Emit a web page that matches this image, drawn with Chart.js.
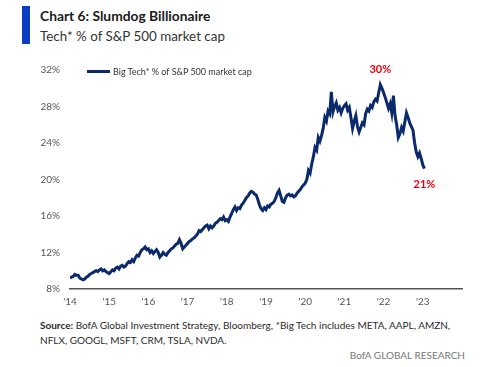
<!DOCTYPE html>
<html>
<head>
<meta charset="utf-8">
<script src="https://cdn.jsdelivr.net/npm/chart.js@4/dist/chart.umd.min.js"></script>
<style>
    body { margin: 0; width: 487px; height: 367px; background: #fff; font-family: Lato, "Open Sans", sans-serif; position: relative; overflow: hidden; }
    .bar { position: absolute; left: 22px; top: 6px; width: 8px; height: 38px; background: #0a3fc4; }
    .title { position: absolute; left: 40px; top: 7px; font-size: 13.8px; font-weight: bold; color: #1a1a1a; }
    .subtitle { position: absolute; left: 40px; top: 28px; font-size: 13.4px; color: #333; }
    .chart-box { position: absolute; left: 0; top: 54px; width: 475px; height: 251px; }
    .legend { position: absolute; left: 87px; top: 66px; font-size: 9px; color: #333; display: flex; align-items: center; }
    .legend-line { display: inline-block; width: 23px; height: 3px; background: #0b2a6b; margin-right: 3px; }
    .source { position: absolute; left: 40px; top: 318px; width: 430px; font-size: 10px; line-height: 15px; color: #2a2a2a; }
    .brand { position: absolute; right: 22px; top: 349px; font-size: 10px; color: #777; }
</style>
</head>
<body>
<div class="bar"></div>
<div class="title">Chart 6: Slumdog Billionaire</div>
<div class="subtitle">Tech* % of S&amp;P 500 market cap</div>
<div class="chart-box"><canvas id="chart"></canvas></div>
<div class="legend"><span class="legend-line"></span>Big Tech* % of S&amp;P 500 market cap</div>
<div class="source"><b>Source:</b> BofA Global Investment Strategy, Bloomberg, *Big Tech includes META, AAPL, AMZN, NFLX, GOOGL, MSFT, CRM, TSLA, NVDA.</div>
<div class="brand">BofA GLOBAL RESEARCH</div>

<script>
// semi-monthly readings, first one at start of 2014
const startYear = 2014;
const stepsPerYear = 24;
const techShare = [
    // 2014
    9.2, 9.3, 9.4, 9.6, 9.5, 9.5, 9.2, 9.1, 9.0, 9.1, 9.3, 9.4,
    9.6, 9.7, 9.8, 9.9, 10.0, 9.9, 10.1, 10.2, 10.0, 10.1, 9.9, 9.8,
    // 2015
    9.7, 9.9, 10.1, 10.0, 10.3, 10.4, 10.2, 10.5, 10.6, 10.4, 10.5, 10.8,
    11.0, 10.9, 11.2, 11.0, 11.4, 11.7, 11.6, 12.0, 12.3, 12.4, 12.6, 12.3,
    // 2016
    12.4, 12.0, 12.2, 11.9, 12.1, 12.3, 12.0, 11.5, 11.7, 12.0, 11.8, 11.7,
    12.0, 12.2, 12.4, 12.5, 12.7, 12.9, 13.0, 13.4, 13.0, 12.4, 12.6, 12.8,
    // 2017
    13.0, 13.2, 13.3, 13.5, 13.6, 13.8, 14.0, 14.4, 14.3, 14.5, 14.7, 14.9,
    15.0, 14.6, 14.9, 14.7, 14.9, 15.2, 15.3, 15.5, 15.7, 15.6, 15.9, 15.5,
    // 2018
    15.6, 15.4, 15.9, 16.3, 16.7, 17.0, 16.6, 16.9, 16.8, 17.2, 17.4, 17.7,
    18.0, 18.2, 18.5, 18.7, 18.6, 18.4, 18.3, 17.8, 17.2, 16.8, 16.6, 16.9,
    // 2019
    16.7, 17.1, 17.0, 17.3, 17.4, 17.6, 18.0, 18.5, 18.8, 18.2, 17.6, 17.5,
    18.0, 18.3, 18.4, 18.2, 18.3, 18.1, 18.2, 18.5, 18.7, 18.9, 19.2, 19.4,
    // 2020
    19.6, 20.0, 21.0, 20.7, 21.7, 22.5, 23.5, 23.2, 24.6, 24.2, 24.8, 25.6,
    26.8, 26.4, 27.5, 27.2, 29.6, 27.4, 28.0, 28.4, 27.6, 27.9, 27.3, 27.8,
    // 2021
    28.1, 28.3, 27.6, 27.9, 26.8, 25.6, 26.4, 27.0, 25.8, 25.2, 25.7, 26.2,
    26.0, 27.2, 27.7, 27.5, 28.1, 27.9, 28.5, 28.8, 28.6, 29.5, 30.4, 30.0,
    // 2022
    29.5, 29.0, 28.4, 27.8, 28.3, 27.3, 29.2, 27.0, 26.0, 24.6, 25.0, 25.7,
    25.3, 26.3, 27.3, 26.8, 26.2, 25.8, 25.4, 24.0, 23.0, 22.5, 22.9, 22.3,
    // 2023
    21.6, 21.2
];
const yearLabels = ["'14", "'15", "'16", "'17", "'18", "'19", "'20", "'21", "'22", "'23"];
const calloutLabels = ['30%', '21%'];   // peak, latest

const points = techShare.map((v, i) => ({ x: startYear + i / stepsPerYear, y: v }));

// red labels over the peak and under the last reading
const calloutPlugin = {
    id: 'callouts',
    afterDatasetsDraw(chart) {
        const ctx = chart.ctx;
        const xs = chart.scales.x, ys = chart.scales.y;
        const peak = techShare.indexOf(Math.max(...techShare));
        const last = techShare.length - 1;
        ctx.save();
        ctx.fillStyle = '#e8000b';
        ctx.font = 'bold 11px Lato, sans-serif';
        ctx.textAlign = 'center';
        ctx.textBaseline = 'middle';
        ctx.fillText(calloutLabels[0], xs.getPixelForValue(points[peak].x), ys.getPixelForValue(points[peak].y) - 15);
        ctx.fillText(calloutLabels[1], xs.getPixelForValue(points[last].x), ys.getPixelForValue(points[last].y) + 16);
        ctx.restore();
    }
};

new Chart(document.getElementById('chart'), {
    type: 'line',
    data: {
        datasets: [{
            label: 'Big Tech* % of S&P 500 market cap',
            data: points,
            borderColor: '#0b2a6b',
            borderWidth: 3,
            pointRadius: 0,
            tension: 0,
            fill: false
        }]
    },
    options: {
        responsive: true,
        maintainAspectRatio: false,
        animation: false,
        layout: { padding: { top: 3, right: 13, left: 0, bottom: 0 } },
        plugins: {
            legend: { display: false },
            tooltip: { enabled: false }
        },
        scales: {
            x: {
                type: 'linear',
                min: 2014,
                max: 2024,
                grid: { display: false, drawTicks: false },
                border: { color: '#555', width: 1.5 },
                ticks: {
                    stepSize: 1,
                    color: '#555',
                    font: { family: 'Lato', size: 10 },
                    padding: 7,
                    maxRotation: 0,
                    callback: v => yearLabels[v - startYear] || ''
                },
                afterFit: s => { s.height = 16; }
            },
            y: {
                min: 8,
                max: 32,
                grid: { display: false, drawTicks: false },
                border: { display: false },
                ticks: {
                    stepSize: 4,
                    color: '#555',
                    font: { family: 'Lato', size: 10 },
                    padding: 10,
                    callback: v => v + '%'
                },
                afterFit: s => { s.width = 70; }
            }
        }
    },
    plugins: [calloutPlugin]
});
</script>
</body>
</html>
